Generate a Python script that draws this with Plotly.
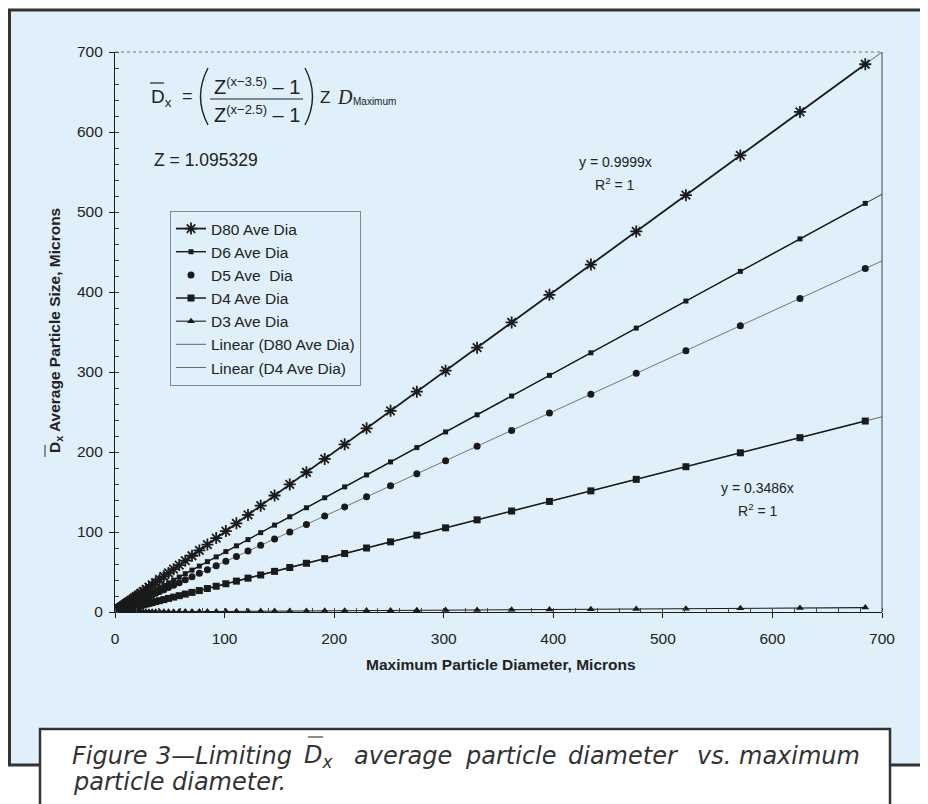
import plotly.graph_objects as go

# ---------------- data ----------------
max_dia = [684.73, 625.14, 570.73, 521.05, 475.70, 434.30, 396.50, 361.99, 330.48, 301.72,
           275.46, 251.48, 229.59, 209.61, 191.37, 174.71, 159.50, 145.62, 132.95, 121.38,
           110.81, 101.16, 92.36, 84.32, 76.98, 70.28, 64.16, 58.58, 53.48, 48.82,
           44.57, 40.69, 37.15, 33.91, 30.96, 28.27, 25.81, 23.57, 21.52, 19.65,
           17.94, 16.38, 14.95, 13.65, 12.46, 11.38, 10.39, 9.48, 8.66, 7.91,
           7.22, 6.59, 6.02, 5.49, 5.01, 4.58, 4.18, 3.82, 3.48, 3.18]

d80 = [684.7, 625.1, 570.7, 521.0, 475.7, 434.3, 396.5, 362.0, 330.4, 301.7,
       275.4, 251.5, 229.6, 209.6, 191.4, 174.7, 159.5, 145.6, 132.9, 121.4,
       110.8, 101.2, 92.4, 84.3, 77.0, 70.3, 64.2, 58.6, 53.5, 48.8,
       44.6, 40.7, 37.1, 33.9, 31.0, 28.3, 25.8, 23.6, 21.5, 19.6,
       17.9, 16.4, 14.9, 13.6, 12.5, 11.4, 10.4, 9.5, 8.7, 7.9,
       7.2, 6.6, 6.0, 5.5, 5.0, 4.6, 4.2, 3.8, 3.5, 3.2]

d6 = [510.8, 466.4, 425.8, 388.7, 354.9, 324.0, 295.8, 270.0, 246.5, 225.1,
      205.5, 187.6, 171.3, 156.4, 142.8, 130.3, 119.0, 108.6, 99.2, 90.5,
      82.7, 75.5, 68.9, 62.9, 57.4, 52.4, 47.9, 43.7, 39.9, 36.4,
      33.2, 30.4, 27.7, 25.3, 23.1, 21.1, 19.3, 17.6, 16.1, 14.7,
      13.4, 12.2, 11.2, 10.2, 9.3, 8.5, 7.8, 7.1, 6.5, 5.9,
      5.4, 4.9, 4.5, 4.1, 3.7, 3.4, 3.1, 2.8, 2.6, 2.4]

d5 = [429.3, 392.0, 357.8, 326.7, 298.3, 272.3, 248.6, 227.0, 207.2, 189.2,
      172.7, 157.7, 144.0, 131.4, 120.0, 109.5, 100.0, 91.3, 83.4, 76.1,
      69.5, 63.4, 57.9, 52.9, 48.3, 44.1, 40.2, 36.7, 33.5, 30.6,
      27.9, 25.5, 23.3, 21.3, 19.4, 17.7, 16.2, 14.8, 13.5, 12.3,
      11.2, 10.3, 9.4, 8.6, 7.8, 7.1, 6.5, 5.9, 5.4, 5.0,
      4.5, 4.1, 3.8, 3.4, 3.1, 2.9, 2.6, 2.4, 2.2, 2.0]

d4 = [238.7, 217.9, 199.0, 181.6, 165.8, 151.4, 138.2, 126.2, 115.2, 105.2,
      96.0, 87.7, 80.0, 73.1, 66.7, 60.9, 55.6, 50.8, 46.3, 42.3,
      38.6, 35.3, 32.2, 29.4, 26.8, 24.5, 22.4, 20.4, 18.6, 17.0,
      15.5, 14.2, 13.0, 11.8, 10.8, 9.9, 9.0, 8.2, 7.5, 6.9,
      6.3, 5.7, 5.2, 4.8, 4.3, 4.0, 3.6, 3.3, 3.0, 2.8,
      2.5, 2.3, 2.1, 1.9, 1.7, 1.6, 1.5, 1.3, 1.2, 1.1]

d3 = [5.5, 5.0, 4.6, 4.2, 3.8, 3.5, 3.2, 2.9, 2.6, 2.4,
      2.2, 2.0, 1.8, 1.7, 1.5, 1.4, 1.3, 1.2, 1.1, 1.0,
      0.9, 0.8, 0.7, 0.7, 0.6, 0.6, 0.5, 0.5, 0.4, 0.4,
      0.4, 0.3, 0.3, 0.3, 0.2, 0.2, 0.2, 0.2, 0.2, 0.2,
      0.1, 0.1, 0.1, 0.1, 0.1, 0.1, 0.1, 0.1, 0.1, 0.1,
      0.1, 0.1, 0.0, 0.0, 0.0, 0.0, 0.0, 0.0, 0.0, 0.0]

trend_x = [0, 700]
trend_d80 = [0, 699.9]
trend_d6 = [0, 522.2]
trend_d5 = [0, 438.9]
trend_d4 = [0, 244.0]

x_ticks = [0, 100, 200, 300, 400, 500, 600, 700]
y_ticks = [0, 100, 200, 300, 400, 500, 600, 700]

# ---------------- layout helpers ----------------
# the page body has an 8px margin, so the figure is 8px smaller and
# reference-pixel positions are converted with that offset in mind
W, H = 920, 796
ML, MR, MT, MB = 107, 46, 44, 192
PW, PH = W - ML - MR, H - MT - MB
BG = "#dff0fa"
INK = "#1a1a1a"


def px(xr):  # reference-image x pixel -> paper fraction
    return (xr - 8 - ML) / PW


def py(yr):  # reference-image y pixel -> paper fraction
    return (H - MB - (yr - 8)) / PH


fig = go.Figure()

# trendlines (drawn first, underneath markers)
fig.add_trace(go.Scatter(x=trend_x, y=trend_d6, mode="lines", showlegend=False,
                         line=dict(color="#333", width=1), hoverinfo="skip"))
fig.add_trace(go.Scatter(x=trend_x, y=trend_d5, mode="lines", showlegend=False,
                         line=dict(color="#555", width=0.8), hoverinfo="skip"))
fig.add_trace(go.Scatter(x=trend_x, y=trend_d80, mode="lines", name="Linear (D80 Ave Dia)",
                         legendrank=6, line=dict(color="#666", width=1)))
fig.add_trace(go.Scatter(x=trend_x, y=trend_d4, mode="lines", name="Linear (D4 Ave Dia)",
                         legendrank=7, line=dict(color="#666", width=1)))

# data series
fig.add_trace(go.Scatter(x=max_dia, y=d80, mode="lines+markers", name="D80 Ave Dia", legendrank=1,
                         line=dict(color=INK, width=1.8),
                         marker=dict(symbol="asterisk-open", size=10, color=INK,
                                     line=dict(color=INK, width=1.8))))
fig.add_trace(go.Scatter(x=max_dia, y=d6, mode="lines+markers", name="D6 Ave Dia", legendrank=2,
                         line=dict(color=INK, width=1.4),
                         marker=dict(symbol="square", size=5, color=INK)))
fig.add_trace(go.Scatter(x=max_dia, y=d5, mode="markers", name="D5 Ave  Dia", legendrank=3,
                         marker=dict(symbol="circle", size=7, color=INK)))
fig.add_trace(go.Scatter(x=max_dia, y=d4, mode="lines+markers", name="D4 Ave Dia", legendrank=4,
                         line=dict(color=INK, width=1.5),
                         marker=dict(symbol="square", size=7, color=INK)))
fig.add_trace(go.Scatter(x=max_dia, y=d3, mode="lines+markers", name="D3 Ave Dia", legendrank=5,
                         line=dict(color=INK, width=1.1),
                         marker=dict(symbol="triangle-up", size=7, color=INK)))

tickfont = dict(family="Liberation Sans, Arial, sans-serif", size=15.5, color="#222")

fig.update_xaxes(range=[0, 700], tickvals=x_ticks, ticks="outside", ticklen=5, tickwidth=1,
                 tickcolor=INK, showline=True, linecolor=INK, linewidth=1.2, showgrid=False,
                 zeroline=False, tickfont=tickfont, ticklabelstandoff=7,
                 minor=dict(ticks="inside", dtick=20, ticklen=4, tickcolor="#444", showgrid=False))
fig.update_yaxes(range=[0, 700], tickvals=y_ticks, ticks="outside", ticklen=5, tickwidth=1,
                 tickcolor=INK, showline=True, linecolor=INK, linewidth=1.2, showgrid=False,
                 zeroline=False, tickfont=tickfont, ticklabelstandoff=3,
                 minor=dict(ticks="inside", dtick=20, ticklen=4, tickcolor="#444", showgrid=False))


def paren(x_top, x_ctrl, y_top, y_bot):
    ym = (y_top + y_bot) / 2
    return "M {:.5f},{:.5f} Q {:.5f},{:.5f} {:.5f},{:.5f}".format(
        px(x_top), py(y_top), px(x_ctrl), py(ym), px(x_top), py(y_bot))


shapes = [
    # outer light-blue frame
    dict(type="rect", xref="paper", yref="paper", x0=px(9.5), x1=px(945), y0=py(765), y1=py(10),
         fillcolor=BG, line=dict(color="#333", width=3), layer="below"),
    # caption box
    dict(type="rect", xref="paper", yref="paper", x0=px(40), x1=px(890), y0=py(812), y1=py(729),
         fillcolor="white", line=dict(color="#333", width=2.5), layer="above"),
    # plot border top (dotted) and right
    dict(type="line", xref="paper", yref="paper", x0=0, x1=1, y0=1, y1=1,
         line=dict(color="#777", width=1, dash="dot"), layer="above"),
    dict(type="line", xref="paper", yref="paper", x0=1, x1=1, y0=0, y1=1,
         line=dict(color="#444", width=1), layer="above"),
    # formula: overline on D, fraction bar, parentheses
    dict(type="line", xref="paper", yref="paper", x0=px(150), x1=px(164), y0=py(83), y1=py(83),
         line=dict(color="#222", width=1.2)),
    dict(type="line", xref="paper", yref="paper", x0=px(210), x1=px(303), y0=py(99), y1=py(99),
         line=dict(color="#222", width=1)),
    dict(type="path", xref="paper", yref="paper", path=paren(208, 193, 68, 125),
         line=dict(color="#222", width=1.4)),
    dict(type="path", xref="paper", yref="paper", path=paren(305, 320, 68, 125),
         line=dict(color="#222", width=1.4)),
    # y-title overline
    dict(type="line", xref="paper", yref="paper", x0=px(45), x1=px(45), y0=py(445), y1=py(457),
         line=dict(color="#555", width=1.3)),
    # caption overline
    dict(type="line", xref="paper", yref="paper", x0=px(308), x1=px(323), y0=py(737), y1=py(737),
         line=dict(color="#666", width=1.5)),
]

ann = []
f_main = "Liberation Sans, Arial, sans-serif"


def add_text(text, x, y, size, xanchor="center", yanchor="middle", family=f_main, color="#222", angle=0):
    ann.append(dict(text=text, x=px(x), y=py(y), xref="paper", yref="paper", showarrow=False,
                    xanchor=xanchor, yanchor=yanchor, textangle=angle,
                    font=dict(family=family, size=size, color=color)))


# formula
add_text("D<sub>x</sub>", 149, 98, 19, xanchor="left")
add_text("=", 187, 96, 18)
add_text("Z<sup><span style='font-size:13px'>(x\u22123.5)</span></sup> \u2013 1", 257, 86, 20)
add_text("Z<sup><span style='font-size:13px'>(x\u22122.5)</span></sup> \u2013 1", 257, 114, 20)
add_text("Z", 325, 97, 17)
add_text("<i>D</i>", 345, 97, 20, family="Liberation Serif, Times New Roman, serif")
add_text("Maximum", 351, 101, 10, xanchor="left")
add_text("Z = 1.095329", 152, 160, 17.5, xanchor="left")

# regression labels
add_text("y = 0.9999x", 615, 162, 14)
add_text("R<sup>2</sup> = 1", 615, 184, 14)
add_text("y = 0.3486x", 757, 488, 14)
add_text("R<sup>2</sup> = 1", 758, 510, 14)

# axis titles
add_text("<b>Maximum Particle Diameter, Microns</b>", 501, 665, 15.5)
add_text("<b>D<sub>x</sub> Average Particle Size, Microns</b>", 55, 331, 15.5, angle=-90)

# caption (justified line 1 built word by word)
cap_font = "DejaVu Sans, sans-serif"
cap_words_1 = [("<i>Figure</i>", 110), ("<i>3\u2014Limiting</i>", 224), ("<i>D<sub>x</sub></i>", 318),
               ("<i>average</i>", 403), ("<i>particle</i>", 511), ("<i>diameter</i>", 623),
               ("<i>vs.</i>", 714), ("<i>maximum</i>", 799)]
for w, cx in cap_words_1:
    add_text(w, cx, 756, 24, family=cap_font, color="#333")
for w, cx in [("<i>particle</i>", 119), ("<i>diameter.</i>", 229)]:
    add_text(w, cx, 782, 24, family=cap_font, color="#333")

fig.update_layout(
    width=W, height=H,
    margin=dict(l=ML, r=MR, t=MT, b=MB, autoexpand=False),
    paper_bgcolor="white", plot_bgcolor=BG,
    shapes=shapes, annotations=ann,
    showlegend=True,
    legend=dict(x=px(170), y=py(211), xanchor="left", yanchor="top",
                bgcolor=BG, bordercolor="#888", borderwidth=1,
                font=dict(family=f_main, size=15.5, color="#222"),
                itemwidth=30, tracegroupgap=0),
    font=dict(family=f_main),
)

fig.write_html("out.html")
